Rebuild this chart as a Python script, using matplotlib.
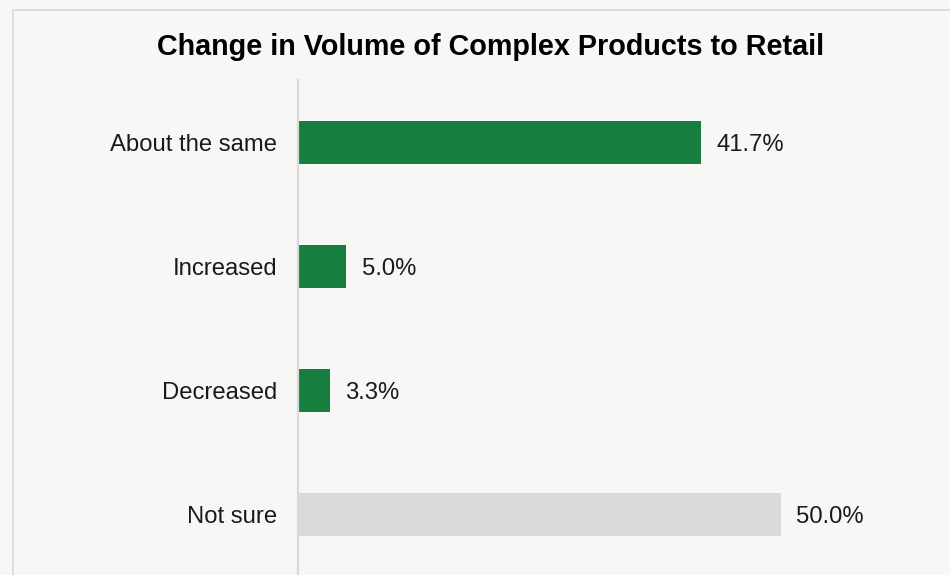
import matplotlib
matplotlib.use("Agg")
import matplotlib.pyplot as plt
from matplotlib.lines import Line2D

categories = ["About the same", "Increased", "Decreased", "Not sure"]
values = [41.7, 5.0, 3.3, 50.0]
value_labels = ["41.7%", "5.0%", "3.3%", "50.0%"]
colors = ["#167f40", "#167f40", "#167f40", "#d9d9d9"]
title = "Change in Volume of Complex Products to Retail"

plt.rcParams['font.family'] = ['Liberation Sans', 'DejaVu Sans']

W, H = 950, 575
bg = "#f7f7f5"
fig = plt.figure(figsize=(W / 100, H / 100), dpi=100, facecolor=bg)

px_per_unit = 9.66
xmax = 60
ax_left = 298 / W
ax_width = xmax * px_per_unit / W
ax_top = 1 - 80 / H
ax_bottom = -1.5 / H
ax = fig.add_axes([ax_left, ax_bottom, ax_width, ax_top - ax_bottom])
ax.set_facecolor(bg)

pos = list(range(len(categories)))
ax.barh(pos, values, height=0.346, color=colors, zorder=2)
ax.set_xlim(0, xmax)
ax.set_ylim(3.5, -0.5)

for p, v, lab in zip(pos, values, value_labels):
    ax.annotate(lab, (v, p), xytext=(11, -2), textcoords="offset points",
                va="center", ha="left", fontsize=17.2, color="#1a1a1a")

ax.set_yticks(pos)
ax.set_yticklabels(categories, fontsize=17.2, color="#1a1a1a")
ax.tick_params(axis="y", length=0, pad=15)
ax.set_xticks([])
for s in ["top", "right", "bottom"]:
    ax.spines[s].set_visible(False)
ax.spines["left"].set_color("#d9d9d9")
ax.spines["left"].set_linewidth(1.6)

fig.text(491 / W, 1 - 47 / H, title, ha="center", va="center",
         fontsize=20.7, fontweight="bold", color="#000000")

# outer border (top and left visible)
fig.add_artist(Line2D([12.5 / W, 1.0], [1 - 9.5 / H, 1 - 9.5 / H],
                      transform=fig.transFigure, color="#d9d9d9", lw=1.2))
fig.add_artist(Line2D([12.5 / W, 12.5 / W], [1 - 9.5 / H, 0.0],
                      transform=fig.transFigure, color="#d9d9d9", lw=1.2))

fig.savefig("out.png", dpi=100, facecolor=bg)
